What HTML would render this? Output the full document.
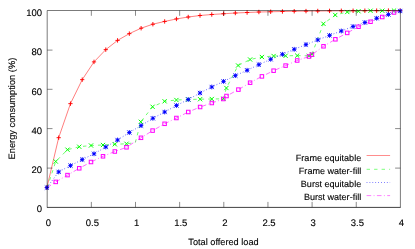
<!DOCTYPE html>
<html><head><meta charset="utf-8"><title>plot</title>
<style>html,body{margin:0;padding:0;background:#fff}svg{display:block;will-change:transform}text{font-family:"Liberation Sans",sans-serif;font-size:9.5px;fill:#000;stroke:#000;stroke-width:0.12px;text-rendering:geometricPrecision}</style></head><body>
<svg width="415" height="249" viewBox="0 0 415 249">
<rect width="415" height="249" fill="#fff"/>
<defs>
<g id="mp"><path d="M-2.1 0H2.1M0 -2.2V2.2" stroke="#f00" stroke-width="0.95" fill="none"/></g>
<g id="mx"><path d="M-2.1 -2.1L2.1 2.1M-2.1 2.1L2.1 -2.1" stroke="#0f0" stroke-width="1.00" fill="none"/></g>
<g id="ms"><path d="M-2.2 0H2.2M0 -2.4V2.4M-2.1 -2.1L2.1 2.1M-2.1 2.1L2.1 -2.1" stroke="#00f" stroke-width="0.90" fill="none"/><rect x="-1" y="-1" width="2" height="2" fill="#00f"/></g>
<g id="mq"><rect x="-1.75" y="-1.75" width="3.5" height="3.5" stroke="#f0f" stroke-width="1.00" fill="none"/></g>
</defs>
<g>
<polyline points="46.90,187.60 58.68,137.70 70.45,103.65 82.23,79.65 94.01,61.90 105.78,49.65 117.56,40.40 129.34,33.65 141.11,28.20 152.89,24.20 164.67,21.45 176.44,18.95 188.22,17.00 200.00,15.50 211.77,14.50 223.55,13.75 235.33,13.00 247.10,12.50 258.88,12.00 270.66,11.75 282.43,11.50 294.21,11.25 305.99,11.10 317.76,11.00 329.54,10.90 341.32,10.80 353.09,10.75 364.87,10.70 376.65,10.65 388.42,10.60 400.20,10.60" stroke="#f00" stroke-width="0.51" fill="none"/>
<polyline points="47.20,187.60 55.75,161.50 67.50,149.70 79.25,146.75 91.00,145.50 103.00,145.00 114.80,144.30 126.50,143.80 135.30,142.60 140.80,121.80 152.60,106.80 164.60,101.30 176.40,100.00 188.30,99.50 200.10,99.20 211.80,99.00 223.40,98.80 226.40,88.00 238.10,65.50 250.10,59.50 261.90,57.00 273.60,56.00 285.60,55.80 297.20,55.60 309.00,55.80 311.90,54.20 323.40,23.80 335.25,15.00 347.25,12.00 358.50,11.25 370.50,10.75 382.25,10.75 394.00,10.60 400.20,10.60" stroke="#0f0" stroke-width="0.58" fill="none" stroke-dasharray="3.4 4.1"/>
<polyline points="46.90,187.60 58.68,171.90 70.45,165.60 82.23,159.60 94.01,153.80 105.78,147.00 117.56,140.00 129.34,132.50 141.11,125.60 152.89,118.30 164.67,112.00 176.44,105.50 188.22,99.50 200.00,93.00 211.77,87.00 223.55,81.40 235.33,75.60 247.10,70.30 258.88,64.60 270.66,59.30 282.43,54.30 294.21,49.30 305.99,44.60 317.76,39.90 329.54,35.40 341.32,31.00 353.09,26.50 364.87,22.50 376.65,18.25 388.42,14.50 400.20,11.00" stroke="#00f" stroke-width="0.70" fill="none" stroke-dasharray="0.8 2.1"/>
<polyline points="47.20,187.60 55.75,181.90 67.50,175.10 79.25,168.30 91.00,162.00 103.00,156.30 114.80,151.50 126.50,147.30 141.00,137.80 152.60,130.60 164.60,123.80 176.40,118.00 188.30,112.00 200.10,107.00 211.80,103.00 223.30,99.00 226.50,96.00 238.40,89.60 250.10,82.70 261.90,76.40 273.60,70.70 285.60,65.60 297.20,60.50 309.00,56.50 311.90,54.70 323.50,46.30 335.40,39.30 347.20,32.90 358.50,26.75 370.50,21.75 382.25,17.00 394.00,12.50 400.20,10.60" stroke="#f0f" stroke-width="0.58" fill="none" stroke-dasharray="4.6 2.4 0.9 2.4"/>
<path d="M366.6 155.50H390.1" stroke="#f00" stroke-width="0.45" fill="none"/>
<path d="M366.6 169.30H390.1" stroke="#0f0" stroke-width="0.51" fill="none" stroke-dasharray="3.4 4.1"/>
<path d="M366.6 182.50H390.1" stroke="#00f" stroke-width="0.61" fill="none" stroke-dasharray="0.8 2.1"/>
<path d="M366.6 195.60H390.1" stroke="#f0f" stroke-width="0.51" fill="none" stroke-dasharray="4.6 2.4 0.9 2.4"/>
</g>
<g>
<use href="#mp" x="46.90" y="187.60"/>
<use href="#mp" x="58.68" y="137.70"/>
<use href="#mp" x="70.45" y="103.65"/>
<use href="#mp" x="82.23" y="79.65"/>
<use href="#mp" x="94.01" y="61.90"/>
<use href="#mp" x="105.78" y="49.65"/>
<use href="#mp" x="117.56" y="40.40"/>
<use href="#mp" x="129.34" y="33.65"/>
<use href="#mp" x="141.11" y="28.20"/>
<use href="#mp" x="152.89" y="24.20"/>
<use href="#mp" x="164.67" y="21.45"/>
<use href="#mp" x="176.44" y="18.95"/>
<use href="#mp" x="188.22" y="17.00"/>
<use href="#mp" x="200.00" y="15.50"/>
<use href="#mp" x="211.77" y="14.50"/>
<use href="#mp" x="223.55" y="13.75"/>
<use href="#mp" x="235.33" y="13.00"/>
<use href="#mp" x="247.10" y="12.50"/>
<use href="#mp" x="258.88" y="12.00"/>
<use href="#mp" x="270.66" y="11.75"/>
<use href="#mp" x="282.43" y="11.50"/>
<use href="#mp" x="294.21" y="11.25"/>
<use href="#mp" x="305.99" y="11.10"/>
<use href="#mp" x="317.76" y="11.00"/>
<use href="#mp" x="329.54" y="10.90"/>
<use href="#mp" x="341.32" y="10.80"/>
<use href="#mp" x="353.09" y="10.75"/>
<use href="#mp" x="364.87" y="10.70"/>
<use href="#mp" x="376.65" y="10.65"/>
<use href="#mp" x="388.42" y="10.60"/>
<use href="#mp" x="400.20" y="10.60"/>
<use href="#mx" x="55.75" y="161.50"/>
<use href="#mx" x="67.50" y="149.70"/>
<use href="#mx" x="79.25" y="146.75"/>
<use href="#mx" x="91.00" y="145.50"/>
<use href="#mx" x="103.00" y="145.00"/>
<use href="#mx" x="114.80" y="144.30"/>
<use href="#mx" x="126.50" y="143.80"/>
<use href="#mx" x="140.80" y="121.80"/>
<use href="#mx" x="152.60" y="106.80"/>
<use href="#mx" x="164.60" y="101.30"/>
<use href="#mx" x="176.40" y="100.00"/>
<use href="#mx" x="188.30" y="99.50"/>
<use href="#mx" x="200.10" y="99.20"/>
<use href="#mx" x="211.80" y="99.00"/>
<use href="#mx" x="223.40" y="98.80"/>
<use href="#mx" x="226.40" y="88.00"/>
<use href="#mx" x="238.10" y="65.50"/>
<use href="#mx" x="250.10" y="59.50"/>
<use href="#mx" x="261.90" y="57.00"/>
<use href="#mx" x="273.60" y="56.00"/>
<use href="#mx" x="285.60" y="55.80"/>
<use href="#mx" x="297.20" y="55.60"/>
<use href="#mx" x="309.00" y="55.80"/>
<use href="#mx" x="311.90" y="54.20"/>
<use href="#mx" x="323.40" y="23.80"/>
<use href="#mx" x="335.25" y="15.00"/>
<use href="#mx" x="347.25" y="12.00"/>
<use href="#mx" x="358.50" y="11.25"/>
<use href="#mx" x="370.50" y="10.75"/>
<use href="#mx" x="382.25" y="10.75"/>
<use href="#mx" x="394.00" y="10.60"/>
<use href="#ms" x="46.90" y="187.60"/>
<use href="#ms" x="58.68" y="171.90"/>
<use href="#ms" x="70.45" y="165.60"/>
<use href="#ms" x="82.23" y="159.60"/>
<use href="#ms" x="94.01" y="153.80"/>
<use href="#ms" x="105.78" y="147.00"/>
<use href="#ms" x="117.56" y="140.00"/>
<use href="#ms" x="129.34" y="132.50"/>
<use href="#ms" x="141.11" y="125.60"/>
<use href="#ms" x="152.89" y="118.30"/>
<use href="#ms" x="164.67" y="112.00"/>
<use href="#ms" x="176.44" y="105.50"/>
<use href="#ms" x="188.22" y="99.50"/>
<use href="#ms" x="200.00" y="93.00"/>
<use href="#ms" x="211.77" y="87.00"/>
<use href="#ms" x="223.55" y="81.40"/>
<use href="#ms" x="235.33" y="75.60"/>
<use href="#ms" x="247.10" y="70.30"/>
<use href="#ms" x="258.88" y="64.60"/>
<use href="#ms" x="270.66" y="59.30"/>
<use href="#ms" x="282.43" y="54.30"/>
<use href="#ms" x="294.21" y="49.30"/>
<use href="#ms" x="305.99" y="44.60"/>
<use href="#ms" x="317.76" y="39.90"/>
<use href="#ms" x="329.54" y="35.40"/>
<use href="#ms" x="341.32" y="31.00"/>
<use href="#ms" x="353.09" y="26.50"/>
<use href="#ms" x="364.87" y="22.50"/>
<use href="#ms" x="376.65" y="18.25"/>
<use href="#ms" x="388.42" y="14.50"/>
<use href="#ms" x="400.20" y="11.00"/>
<use href="#mq" x="55.75" y="181.90"/>
<use href="#mq" x="67.50" y="175.10"/>
<use href="#mq" x="79.25" y="168.30"/>
<use href="#mq" x="91.00" y="162.00"/>
<use href="#mq" x="103.00" y="156.30"/>
<use href="#mq" x="114.80" y="151.50"/>
<use href="#mq" x="126.50" y="147.30"/>
<use href="#mq" x="141.00" y="137.80"/>
<use href="#mq" x="152.60" y="130.60"/>
<use href="#mq" x="164.60" y="123.80"/>
<use href="#mq" x="176.40" y="118.00"/>
<use href="#mq" x="188.30" y="112.00"/>
<use href="#mq" x="200.10" y="107.00"/>
<use href="#mq" x="211.80" y="103.00"/>
<use href="#mq" x="223.30" y="99.00"/>
<use href="#mq" x="226.50" y="96.00"/>
<use href="#mq" x="238.40" y="89.60"/>
<use href="#mq" x="250.10" y="82.70"/>
<use href="#mq" x="261.90" y="76.40"/>
<use href="#mq" x="273.60" y="70.70"/>
<use href="#mq" x="285.60" y="65.60"/>
<use href="#mq" x="297.20" y="60.50"/>
<use href="#mq" x="309.00" y="56.50"/>
<use href="#mq" x="311.90" y="54.70"/>
<use href="#mq" x="323.50" y="46.30"/>
<use href="#mq" x="335.40" y="39.30"/>
<use href="#mq" x="347.20" y="32.90"/>
<use href="#mq" x="358.50" y="26.75"/>
<use href="#mq" x="370.50" y="21.75"/>
<use href="#mq" x="382.25" y="17.00"/>
<use href="#mq" x="394.00" y="12.50"/>
</g>
<g>
<path d="M47.20 207.20V10.50H400.40V207.20" stroke="#000" stroke-width="0.52" fill="none"/>
<path d="M47.20 168.10h5.30M400.40 168.10h-5.30M47.20 128.60h5.30M400.40 128.60h-5.30M47.20 89.30h5.30M400.40 89.30h-5.30M47.20 50.10h5.30M400.40 50.10h-5.30M91.35 207.20v-5.30M91.35 10.50v5.30M135.50 207.20v-5.30M135.50 10.50v5.30M179.65 207.20v-5.30M179.65 10.50v5.30M223.80 207.20v-5.30M223.80 10.50v5.30M267.95 207.20v-5.30M267.95 10.50v5.30M312.10 207.20v-5.30M312.10 10.50v5.30M356.25 207.20v-5.30M356.25 10.50v5.30" stroke="#000" stroke-width="0.46" fill="none"/>
<path d="M46.90 207.40H400.70" stroke="#000" stroke-width="0.75" fill="none"/>
<text x="42.0" y="212.30" text-anchor="end">0</text>
<text x="42.0" y="173.16" text-anchor="end">20</text>
<text x="42.0" y="133.82" text-anchor="end">40</text>
<text x="42.0" y="95.28" text-anchor="end">60</text>
<text x="42.0" y="55.44" text-anchor="end">80</text>
<text x="42.0" y="15.60" text-anchor="end">100</text>
<text x="48.30" y="225.6" text-anchor="middle">0</text>
<text x="92.45" y="225.6" text-anchor="middle">0.5</text>
<text x="136.60" y="225.6" text-anchor="middle">1</text>
<text x="180.75" y="225.6" text-anchor="middle">1.5</text>
<text x="224.90" y="225.6" text-anchor="middle">2</text>
<text x="269.05" y="225.6" text-anchor="middle">2.5</text>
<text x="313.20" y="225.6" text-anchor="middle">3</text>
<text x="357.35" y="225.6" text-anchor="middle">3.5</text>
<text x="401.50" y="225.6" text-anchor="middle">4</text>
<text x="223.5" y="245.0" text-anchor="middle" style="font-size:9.2px">Total offered load</text>
<text transform="translate(14.7,108.6) rotate(-90)" text-anchor="middle" style="font-size:9.3px">Energy consumption (%)</text>
<text x="361.2" y="160.50" text-anchor="end" style="font-size:9.05px">Frame equitable</text>
<text x="361.2" y="173.70" text-anchor="end" style="font-size:9.05px">Frame water-fill</text>
<text x="361.2" y="187.20" text-anchor="end" style="font-size:9.05px">Burst equitable</text>
<text x="361.2" y="200.40" text-anchor="end" style="font-size:9.05px">Burst water-fill</text>
</g>
</svg></body></html>
